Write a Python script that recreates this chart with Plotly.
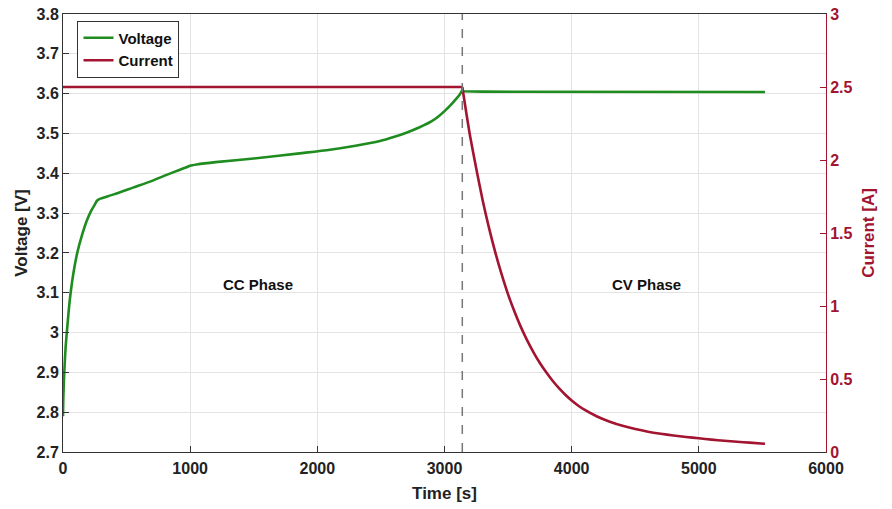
import plotly.graph_objects as go

# ---------------- data ----------------
t_cc = [0, 3, 10, 20, 30, 45, 60, 85, 112, 150, 186, 220, 251, 265, 278, 300, 400, 550, 700, 815, 920, 970, 1000,
        1050, 1200, 1500, 1860, 2100, 2300, 2492, 2600, 2700, 2800, 2900, 2950, 3000, 3050, 3100, 3120, 3140]
v_cc = [2.79, 2.84, 2.90, 2.96, 3.00, 3.055, 3.10, 3.155, 3.20, 3.245, 3.28, 3.305, 3.322, 3.330, 3.334, 3.337,
        3.347, 3.364, 3.381, 3.396, 3.409, 3.415, 3.419, 3.422, 3.428, 3.437, 3.450, 3.459, 3.469, 3.481, 3.491,
        3.502, 3.515, 3.531, 3.542, 3.556, 3.572, 3.590, 3.598, 3.609]
t_cv_v = [3140, 3150, 3300, 4000, 5000, 5520]
v_cv = [3.609, 3.606, 3.605, 3.605, 3.605, 3.604]

t_i_cc = [0, 1000, 2000, 3000, 3140]
i_cc = [2.5, 2.5, 2.5, 2.5, 2.5]
t_i_cv = [3140, 3170, 3200, 3250, 3300, 3350, 3400, 3450, 3500, 3550, 3600, 3650, 3700, 3750, 3800,
          3850, 3900, 3950, 4000, 4050, 4100, 4200, 4300, 4400, 4500, 4600, 4700, 4800, 4900, 5000,
          5100, 5200, 5300, 5400, 5520]
i_cv = [2.5, 2.33, 2.17, 1.94, 1.725, 1.535, 1.365, 1.215, 1.08, 0.962, 0.857, 0.765, 0.683, 0.61, 0.546,
        0.488, 0.437, 0.392, 0.353, 0.319, 0.29, 0.243, 0.207, 0.179, 0.157, 0.139, 0.125, 0.113, 0.103,
        0.094, 0.085, 0.077, 0.07, 0.064, 0.056]

t_switch = 3140
phase_labels = ["CC Phase", "CV Phase"]
phase_x = [1530, 4585]
phase_y = [3.12, 3.12]

x_ticks = [0, 1000, 2000, 3000, 4000, 5000, 6000]
v_ticks = [2.7, 2.8, 2.9, 3.0, 3.1, 3.2, 3.3, 3.4, 3.5, 3.6, 3.7, 3.8]
v_ticktext = ["2.7", "2.8", "2.9", "3", "3.1", "3.2", "3.3", "3.4", "3.5", "3.6", "3.7", "3.8"]
i_ticks = [0, 0.5, 1, 1.5, 2, 2.5, 3]
i_ticktext = ["0", "0.5", "1", "1.5", "2", "2.5", "3"]

GREEN = "#1e8c1e"
RED = "#a2142f"
FONT = "Liberation Sans, Arial, sans-serif"

fig = go.Figure()
fig.add_trace(go.Scatter(x=t_cc, y=v_cc, mode="lines", name="<b>Voltage</b>", legendgroup="v",
                         line=dict(color=GREEN, width=2.6, shape="spline", smoothing=0.7)))
fig.add_trace(go.Scatter(x=t_cv_v, y=v_cv, mode="lines", name="<b>Voltage</b>", legendgroup="v",
                         showlegend=False, line=dict(color=GREEN, width=2.6)))
fig.add_trace(go.Scatter(x=t_i_cc, y=i_cc, mode="lines", name="<b>Current</b>", yaxis="y2", legendgroup="i",
                         line=dict(color=RED, width=2.6)))
fig.add_trace(go.Scatter(x=t_i_cv, y=i_cv, mode="lines", name="<b>Current</b>", yaxis="y2", legendgroup="i",
                         showlegend=False, line=dict(color=RED, width=2.6, shape="spline", smoothing=0.7)))

fig.add_shape(type="line", x0=t_switch, x1=t_switch, xref="x", y0=0, y1=1, yref="paper",
              line=dict(color="#777777", width=1.5, dash="dash"))

for lab, px, py in zip(phase_labels, phase_x, phase_y):
    fig.add_annotation(x=px, y=py, xref="x", yref="y", text="<b>" + lab + "</b>", showarrow=False,
                       font=dict(family=FONT, size=15, color="#111111"))

tickf = dict(family=FONT, size=16, color="#222222", weight="bold")

fig.update_layout(
    width=892, height=509,
    margin=dict(l=63, r=66, t=14, b=57, autoexpand=False),
    paper_bgcolor="white", plot_bgcolor="white",
    font=dict(family=FONT, color="#222222"),
    showlegend=True,
    legend=dict(x=0.019, y=0.985, xanchor="left", yanchor="top",
                bgcolor="white", bordercolor="#333333", borderwidth=1,
                font=dict(family=FONT, size=15, color="#111111"),
                tracegroupgap=0, itemwidth=30),
    xaxis=dict(range=[0, 6000], tickvals=x_ticks, ticks="inside", ticklen=6,
               tickcolor="#333333", automargin=False, ticklabelstandoff=2,
               showline=True, linecolor="#333333", linewidth=1, mirror=True,
               showgrid=True, gridcolor="#e3e3e3", zeroline=False,
               tickfont=tickf,
               title=dict(text="<b>Time [s]</b>", font=dict(family=FONT, size=17, color="#222222"), standoff=10)),
    yaxis=dict(range=[2.7, 3.8], tickvals=v_ticks, ticktext=v_ticktext, ticks="inside", ticklen=6,
               tickcolor="#333333", showline=True, linecolor="#333333", linewidth=1, automargin=False,
               showgrid=True, gridcolor="#e3e3e3", zeroline=False,
               tickfont=tickf,
               title=dict(text="<b>Voltage [V]</b>", font=dict(family=FONT, size=17, color="#222222"), standoff=4)),
    yaxis2=dict(range=[0, 3], tickvals=i_ticks, ticktext=i_ticktext, overlaying="y", side="right",
                ticks="inside", ticklen=6, tickcolor=RED, showline=True, linecolor=RED, linewidth=1,
                showgrid=False, zeroline=False, automargin=False,
                tickfont=dict(family=FONT, size=16, color=RED, weight="bold"),
                title=dict(text="<b>Current [A]</b>", font=dict(family=FONT, size=17, color=RED), standoff=10)),
)

fig.write_html("out.html")
